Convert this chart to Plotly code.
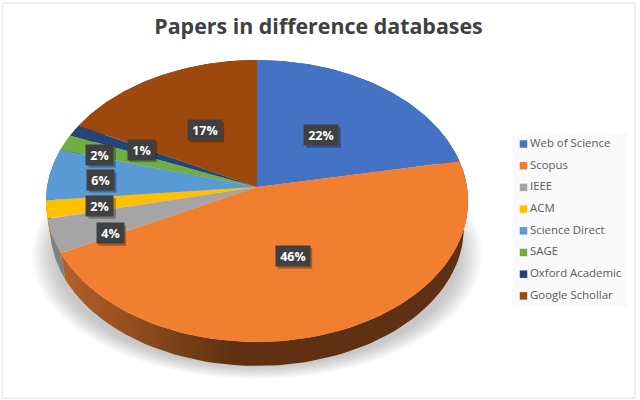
import numpy as np
import plotly.graph_objects as go

TITLE = "Papers in difference databases"
categories = ["Web of Science", "Scopus", "IEEE", "ACM", "Science Direct", "SAGE", "Oxford Academic", "Google Schollar"]
values = [22.0, 45.5, 3.9, 2.1, 5.9, 1.9, 1.3, 17.4]
colors = ["#4472C4", "#F27F30", "#A5A5A5", "#FFC000", "#5B9BD5", "#70AD47", "#264478", "#9E480E"]
side_colors = ["#2f5597", "#6a3514", "#808080", "#b38600", "#3f74a8", "#4f7a32", "#1a2f54", "#6e320a"]
# label placement: radial fraction and angular nudge (in % of the turn)
label_r = [0.5, 0.5, 0.75, 0.75, 0.75, 0.80, 0.63, 0.5]
label_shift = [0, 0, -1.5, -0.35, -0.4, -0.65, 0.25, 0]

# view of the tilted pie, in pixels
AX, AY, A, B, K = 257.0, 187.0, 210.0, 139.6, 0.0993
DEPTH, LOWER = 27.0, 0.98


def project(theta, r=1.0, dy=0.0, s=1.0):
    u, v = r * np.sin(theta), r * np.cos(theta)
    d = 1 + K * v
    return AX + s * A * u / d, AY + dy - s * B * v / d


def turn(pct):
    return np.asarray(pct) / 100.0 * 2 * np.pi


fig = go.Figure()


def add_poly(x, y, **kw):
    fig.add_trace(go.Scatter(x=x, y=y, mode="lines", fill="toself", line=dict(width=0),
                             hoverinfo="skip", showlegend=False, **kw))


# soft shadow under the pie
t = np.linspace(0, 2 * np.pi, 120)
for s in np.linspace(1.0, 0.90, 12):
    add_poly(257 + 225 * s * np.sin(t), 255 + 124 * s * np.cos(t), fillcolor="rgba(110,110,110,0.03)")

cum = np.concatenate([[0], np.cumsum(values)])
cum = cum / cum[-1] * 100

# side wall
for i in range(len(values)):
    th = np.linspace(turn(cum[i]), turn(cum[i + 1]), 80)
    x1, y1 = project(th)
    x2, y2 = project(th, dy=DEPTH, s=LOWER)
    kw = dict(fillcolor=side_colors[i])
    if i == 1:
        kw = dict(fillgradient=dict(type="horizontal", start=65, stop=230,
                                    colorscale=[[0, "#B2602A"], [0.5, "#8A4A1C"], [1, "#5F3112"]]))
    add_poly(np.concatenate([x1, x2[::-1]]), np.concatenate([y1, y2[::-1]]), **kw)

# top face
for i in range(len(values)):
    th = np.linspace(turn(cum[i]), turn(cum[i + 1]), 80)
    x, y = project(th)
    add_poly(np.concatenate([[AX], x, [AX]]), np.concatenate([[AY], y, [AY]]), fillcolor=colors[i])

# data labels with a small drop shadow behind each box
anns = []
shapes = [
    dict(type="rect", x0=513, x1=627, y0=133, y1=307, xref="x", yref="y",
         fillcolor="#FAFAFA", line=dict(width=0), layer="below"),
    dict(type="rect", x0=2.5, x1=635, y0=3, y1=398, xref="x", yref="y",
         fillcolor="rgba(0,0,0,0)", line=dict(width=2, color="#EFEFEF"), layer="below"),
]
for i, v in enumerate(values):
    lx, ly = project(turn((cum[i] + cum[i + 1]) / 2 + label_shift[i]), r=label_r[i])
    lx, ly = float(lx), float(ly)
    txt = f"{round(v)}%"
    half = 17 if len(txt) == 3 else 13.5
    shapes.append(dict(type="rect", xref="x", yref="y", x0=lx - half + 2, x1=lx + half + 2.5,
                       y0=ly - 10 + 2, y1=ly + 10 + 2.5, fillcolor="rgba(0,0,0,0.28)",
                       line=dict(width=0), layer="above"))
    anns.append(dict(x=lx, y=ly, xref="x", yref="y", showarrow=False, text=txt, bgcolor="#404040",
                     width=2 * half, height=20, align="center", valign="middle", borderpad=0,
                     font=dict(family="Open Sans", size=12.5, color="#FFFFFF", weight="bold")))

# key
row_y = 144 + 21.7 * np.arange(len(categories))
fig.add_trace(go.Scatter(x=[523.5] * len(categories), y=row_y, mode="markers",
                         marker=dict(symbol="square", size=7.5, color=colors), hoverinfo="skip", showlegend=False))
fig.add_trace(go.Scatter(x=[530] * len(categories), y=row_y, mode="text", text=categories, textposition="middle right",
                         textfont=dict(family="Open Sans", size=11.4, color="#595959"), hoverinfo="skip", showlegend=False))

fig.update_layout(
    width=640, height=400, margin=dict(l=0, r=0, t=0, b=0),
    paper_bgcolor="#FFFFFF", plot_bgcolor="#FFFFFF", showlegend=False,
    title=dict(text=TITLE, x=318.5 / 640, xanchor="center", y=1 - 27 / 400, yanchor="middle",
               font=dict(family="Open Sans", size=21.4, color="#404040", weight="bold")),
    xaxis=dict(range=[0, 640], visible=False, fixedrange=True),
    yaxis=dict(range=[400, 0], visible=False, fixedrange=True),
    annotations=anns,
    shapes=shapes,
)
fig.write_html("out.html", config=dict(displayModeBar=False),
               post_script="document.body.style.margin='0';document.body.style.overflow='hidden';")
